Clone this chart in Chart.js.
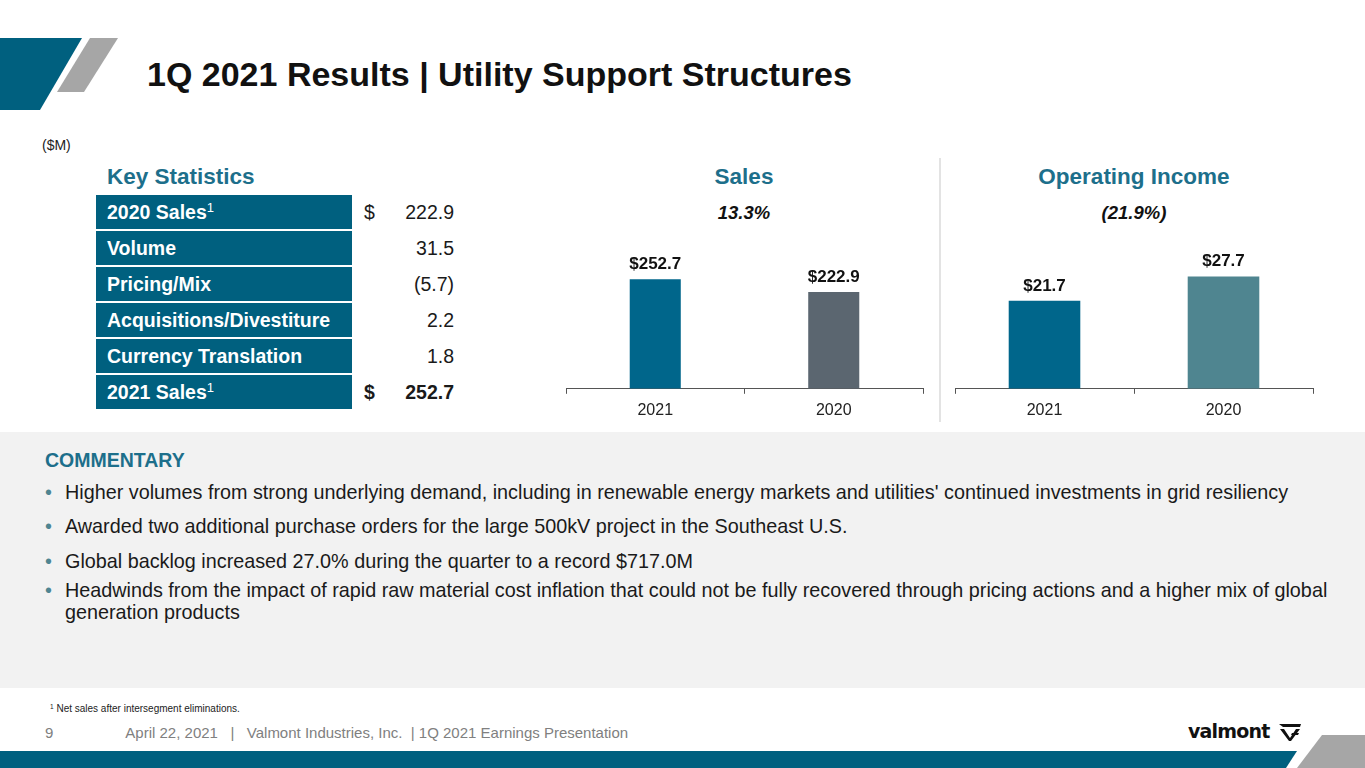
<!DOCTYPE html>
<html>
<head>
<meta charset="utf-8">
<script src="https://cdn.jsdelivr.net/npm/chart.js@4.4.0/dist/chart.umd.min.js"></script>
<style>
  html, body { margin: 0; padding: 0; }
  body { width: 1365px; height: 768px; position: relative; overflow: hidden; background: #fff;
    font-family: "Liberation Sans", Arial, sans-serif; color: #1a1a1a; }
  .abs { position: absolute; }
  .title { left: 147px; top: 55px; font-size: 34px; font-weight: bold; color: #111; white-space: nowrap; }
  .unit { left: 42px; top: 137px; font-size: 14px; color: #222; }
  .hdr { font-size: 22.5px; font-weight: bold; color: #1d6f8b; white-space: nowrap; }
  .pct { font-size: 18.5px; font-weight: bold; font-style: italic; color: #111; white-space: nowrap; }
  .row { left: 96px; width: 256px; height: 34px; background: #00607f; color: #fff;
    font-size: 19.5px; font-weight: bold; line-height: 34px; box-sizing: border-box; padding-left: 11px; white-space: nowrap; }
  .row sup { font-size: 13px; font-weight: normal; vertical-align: 7px; line-height: 0; }
  .dol { left: 364px; font-size: 19.5px; line-height: 34px; }
  .val { left: 380px; width: 74px; text-align: right; font-size: 19.5px; line-height: 34px; }
  .band { left: 0; top: 432px; width: 1365px; height: 256px; background: #f2f2f2; }
  .comm { left: 45px; top: 449px; font-size: 19.5px; font-weight: bold; color: #1d6f8b; }
  .bul { left: 45px; font-size: 19.8px; color: #1a1a1a; white-space: nowrap; }
  .bul span.b { color: #4f8591; display: inline-block; width: 20px; }
  .foot { left: 50px; top: 703px; font-size: 10px; color: #222; }
  .foot sup { font-size: 6.5px; vertical-align: 3px; line-height: 0; }
  .pg { left: 45px; top: 724px; font-size: 15px; color: #808080; white-space: nowrap; }
</style>
</head>
<body>
<svg class="abs" style="left:0;top:0" width="1365" height="768">
  <polygon points="0,38 82,38 40,110 0,110" fill="#00607f"/>
  <polygon points="90,38 118,38 84,92 57,92" fill="#a6a6a6"/>
  <polygon points="0,751 1297,751 1286,768 0,768" fill="#00607f"/>
  <polygon points="1322,735 1365,735 1365,768 1297,768" fill="#a6a6a6"/>
  <line x1="940" y1="158" x2="940" y2="422" stroke="#e3e3e3" stroke-width="2"/>
</svg>

<div class="abs title">1Q 2021 Results | Utility Support Structures</div>
<div class="abs unit">($M)</div>

<div class="abs hdr" style="left:107px;top:164px">Key Statistics</div>
<div id="table"></div>

<div class="abs hdr" style="left:744px;top:164px;transform:translateX(-50%)">Sales</div>
<div class="abs pct" style="left:744px;top:202px;transform:translateX(-50%)">13.3%</div>
<div class="abs hdr" style="left:1134px;top:164px;transform:translateX(-50%)">Operating Income</div>
<div class="abs pct" style="left:1134px;top:202px;transform:translateX(-50%)">(21.9%)</div>

<div class="abs" style="left:556px;top:240px;width:377px;height:187px"><canvas id="salesChart"></canvas></div>
<div class="abs" style="left:945px;top:240px;width:378px;height:187px"><canvas id="incomeChart"></canvas></div>

<div class="abs band"></div>
<div class="abs comm">COMMENTARY</div>
<div id="bullets"></div>

<div class="abs foot"><sup>1</sup> Net sales after intersegment eliminations.</div>
<div class="abs pg">9<span style="display:inline-block;width:72px"></span>April 22, 2021 &nbsp;&nbsp;| &nbsp;&nbsp;Valmont Industries, Inc. &nbsp;| 1Q 2021 Earnings Presentation</div>

<div class="abs" style="left:1188px;top:720px;font-family:'DejaVu Sans',sans-serif;font-size:19px;font-weight:bold;color:#111;letter-spacing:-0.8px">valmont</div>
<svg class="abs" style="left:1279px;top:722px" width="24" height="20">
  <polygon points="0,2 22,2 21,5 4,5" fill="#111"/>
  <polygon points="1,7 5,7 11,16 17,7 21,7 12,19 10,19" fill="#111"/>
  <polygon points="13,11 20,11 19,13 12,13" fill="#111"/>
</svg>

<script>
const statLabels = ['2020 Sales', 'Volume', 'Pricing/Mix', 'Acquisitions/Divestiture', 'Currency Translation', '2021 Sales']
const statValues = ['222.9', '31.5', '(5.7)', '2.2', '1.8', '252.7']

const years = ['2021', '2020']
const salesValues = [252.7, 222.9]
const incomeValues = [21.7, 27.7]

const commentary = [
  "Higher volumes from strong underlying demand, including in renewable energy markets and utilities' continued investments in grid resiliency",
  "Awarded two additional purchase orders for the large 500kV project in the Southeast U.S.",
  "Global backlog increased 27.0% during the quarter to a record $717.0M",
  "Headwinds from the impact of rapid raw material cost inflation that could not be fully recovered through pricing actions and a higher mix of global",
]

// key statistics table
let tableHtml = ''
statLabels.forEach((label, i) => {
  const top = 195 + i * 36
  const last = i === statLabels.length - 1
  const sup = (i === 0 || last) ? '<sup>1</sup>' : ''
  const weight = last ? 'bold' : 'normal'
  tableHtml += `<div class="abs row" style="top:${top}px">${label}${sup}</div>`
  if (i === 0 || last) {
    tableHtml += `<div class="abs dol" style="top:${top}px;font-weight:${weight}">$</div>`
  }
  tableHtml += `<div class="abs val" style="top:${top}px;font-weight:${weight}">${statValues[i]}</div>`
})
document.getElementById('table').innerHTML = tableHtml

let bulletHtml = ''
const bulletTops = [481, 515, 550, 579]
commentary.forEach((text, i) => {
  bulletHtml += `<div class="abs bul" style="top:${bulletTops[i]}px"><span class="b">•</span>${text}</div>`
})
bulletHtml += `<div class="abs bul" style="top:601px;left:65px">generation products</div>`
document.getElementById('bullets').innerHTML = bulletHtml

const valueLabels = {
  id: 'valueLabels',
  afterDatasetsDraw(chart) {
    const ctx = chart.ctx
    const meta = chart.getDatasetMeta(0)
    ctx.save()
    ctx.font = 'bold 17px "Liberation Sans", Arial, sans-serif'
    ctx.fillStyle = '#111'
    ctx.textAlign = 'center'
    ctx.textBaseline = 'middle'
    meta.data.forEach((bar, i) => {
      const v = chart.data.datasets[0].data[i]
      ctx.fillText('$' + v.toFixed(1), bar.x, bar.y - 15)
    })
    ctx.restore()
  }
}

const makeChart = (id, values, colors, barPct, yMax) => {
  const chartConfig = {
    type: 'bar',
    data: {
      labels: years,
      datasets: [{
        data: values,
        backgroundColor: colors,
        categoryPercentage: 1,
        barPercentage: barPct,
      }]
    },
    options: {
      responsive: true,
      maintainAspectRatio: false,
      animation: false,
      layout: { padding: { left: 10, right: 10, top: 0, bottom: 0 } },
      plugins: {
        legend: { display: false },
        tooltip: { enabled: false },
      },
      scales: {
        x: {
          grid: { display: true, drawOnChartArea: false, drawTicks: true, tickLength: 5, color: '#555', offset: true },
          border: { display: true, color: '#555', width: 1 },
          ticks: { color: '#222', font: { size: 16, family: '"Liberation Sans", Arial, sans-serif' }, padding: 7 },
        },
        y: { display: false, min: 0, max: yMax },
      },
    },
    plugins: [valueLabels],
  }
  return new Chart(document.getElementById(id), chartConfig)
}

const salesChart = makeChart('salesChart', salesValues, ['#00668b', '#5b6670'], 0.286, 343)
const incomeChart = makeChart('incomeChart', incomeValues, ['#00668b', '#4f8590'], 0.40, 36.7)
</script>
</body>
</html>
